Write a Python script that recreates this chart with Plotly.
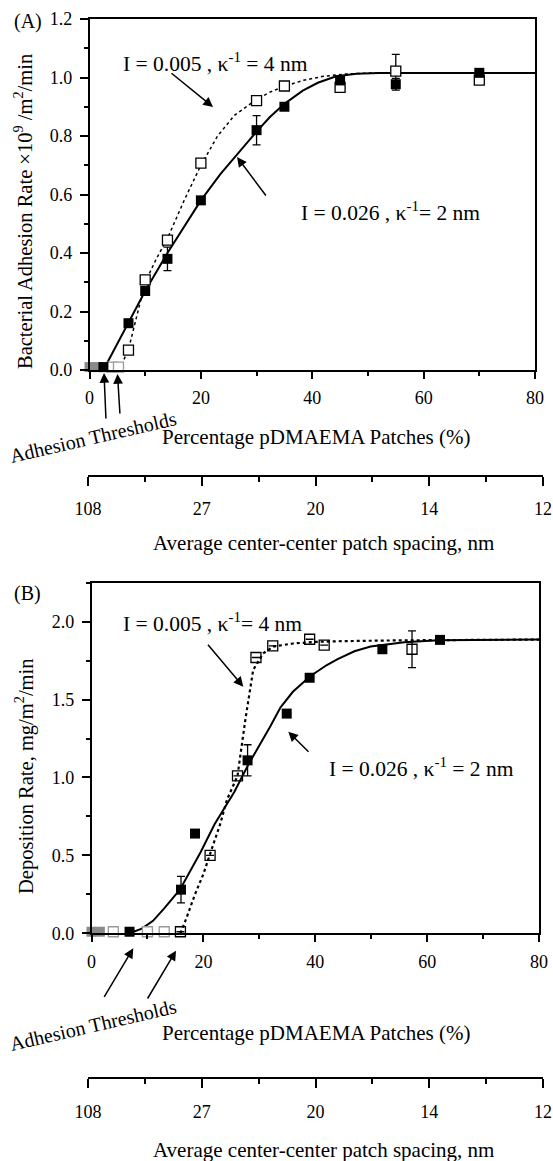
import plotly.graph_objects as go

# ---------------- data ----------------
# Panel A: bacterial adhesion rate (x10^9 /m2/min) vs % pDMAEMA patches
a_fill_x = [2.5, 7, 10, 14, 20, 30, 35, 45, 55, 70]
a_fill_y = [0.01, 0.16, 0.27, 0.38, 0.58, 0.82, 0.90, 0.99, 0.977, 1.016]
a_fill_err = [0, 0, 0, 0.04, 0, 0.05, 0, 0, 0.02, 0]
a_open_x = [7, 10, 14, 20, 30, 35, 45, 55, 70]
a_open_y = [0.068, 0.308, 0.444, 0.707, 0.921, 0.971, 0.966, 1.022, 0.991]
a_open_err = [0, 0, 0, 0, 0, 0, 0, 0.057, 0]
a_gray_fill_x = [0, 1.5]
a_gray_fill_y = [0.01, 0.01]
a_gray_open_x = [4.0, 5.2]
a_gray_open_y = [0.01, 0.01]
# fitted curves
a_solid_x = [2.5, 7, 10, 14, 17, 20, 23.5, 26.4, 30, 32.4, 35, 38.3, 41, 44.3, 48, 52, 80]
a_solid_y = [0.0, 0.16, 0.27, 0.40, 0.49, 0.58, 0.67, 0.735, 0.815, 0.865, 0.91, 0.955, 0.982, 1.004, 1.013, 1.015, 1.015]
a_dot_x = [5.2, 5.8, 7, 8.5, 10, 12, 14, 17, 20, 23, 26, 30, 32.4, 35, 38.3, 42, 46, 50, 80]
a_dot_y = [0.0, 0.02, 0.07, 0.18, 0.30, 0.38, 0.45, 0.58, 0.70, 0.80, 0.87, 0.925, 0.95, 0.97, 0.99, 1.004, 1.012, 1.015, 1.015]

# Panel B: deposition rate (mg/m2/min) vs % pDMAEMA patches
b_fill_x = [6.8, 16, 18.5, 27.9, 34.9, 39, 52, 62.3]
b_fill_y = [0.01, 0.28, 0.64, 1.11, 1.41, 1.64, 1.823, 1.883]
b_fill_err = [0, 0.085, 0, 0.10, 0, 0, 0, 0]
b_open_x = [15.9, 21.2, 26.1, 29.4, 32.4, 39.0, 41.6, 57.3]
b_open_y = [0.01, 0.50, 1.01, 1.77, 1.844, 1.887, 1.85, 1.823]
b_open_err = [0, 0, 0, 0, 0, 0, 0, 0.118]
b_gray_fill_x = [0, 1.5]
b_gray_fill_y = [0.01, 0.01]
b_gray_open_x = [3.9, 10, 13]
b_gray_open_y = [0.01, 0.01, 0.01]
b_solid_x = [6.8, 9, 11, 13, 15.8, 18, 19.5, 22, 25.5, 28, 30.8, 32, 33.8, 36, 39.1, 42, 44, 47, 49.9, 55.9, 62, 80]
b_solid_y = [0.0, 0.03, 0.08, 0.16, 0.28, 0.42, 0.52, 0.70, 0.905, 1.08, 1.25, 1.33, 1.45, 1.55, 1.65, 1.72, 1.76, 1.81, 1.84, 1.868, 1.88, 1.885]
b_dot_x = [15.9, 17, 18.5, 20, 21.2, 23, 24.2, 26.1, 27.5, 28.9, 30.7, 32.5, 36, 40, 45, 55, 80]
b_dot_y = [0.0, 0.1, 0.25, 0.38, 0.51, 0.70, 0.856, 1.01, 1.37, 1.69, 1.797, 1.84, 1.86, 1.87, 1.875, 1.88, 1.885]

# secondary (spacing) axis tick labels
spacing_labels = ["108", "27", "20", "14", "12"]
spacing_pos = [0, 1, 2, 3, 4]
pct_ticks = [0, 20, 40, 60, 80]
pct_minor = [10, 30, 50, 70]
pct_inner = [10, 20, 30, 40, 50, 60, 70]

# ---------------- helpers ----------------
W, H = 553, 1161
FONT = "Liberation Serif"


def pxx(x):
    return x / W


def pyy(y):
    return 1 - y / H


fig = go.Figure()


def add_panel(xa, ya, fx, fy, ferr, ox, oy, oerr, gfx, gfy, gox, goy,
              sx, sy, dx, dy, open_fill, dotw):
    fig.add_trace(go.Scatter(x=sx, y=sy, mode="lines", xaxis=xa, yaxis=ya,
                             line=dict(color="black", width=2), cliponaxis=False,
                             showlegend=False, hoverinfo="skip"))
    fig.add_trace(go.Scatter(x=dx, y=dy, mode="lines", xaxis=xa, yaxis=ya,
                             line=dict(color="black", width=dotw, dash="dot"), cliponaxis=False,
                             showlegend=False, hoverinfo="skip"))
    fig.add_trace(go.Scatter(x=gfx, y=gfy, mode="markers", xaxis=xa, yaxis=ya,
                             marker=dict(symbol="square", size=10, color="#8a8a8a"),
                             cliponaxis=False, showlegend=False))
    fig.add_trace(go.Scatter(x=gox, y=goy, mode="markers", xaxis=xa, yaxis=ya,
                             marker=dict(symbol="square", size=10, color="white",
                                         line=dict(color="#9a9a9a", width=1.3)),
                             cliponaxis=False, showlegend=False))
    fig.add_trace(go.Scatter(x=ox, y=oy, mode="markers", xaxis=xa, yaxis=ya,
                             marker=dict(symbol="square" if open_fill else "square-open",
                                         size=10, color="white" if open_fill else "black",
                                         line=dict(color="black", width=1.3)),
                             error_y=dict(type="data", array=oerr, color="black",
                                          thickness=1.3, width=4),
                             cliponaxis=False, showlegend=False))
    fig.add_trace(go.Scatter(x=fx, y=fy, mode="markers", xaxis=xa, yaxis=ya,
                             marker=dict(symbol="square", size=10, color="black"),
                             error_y=dict(type="data", array=ferr, color="black",
                                          thickness=1.3, width=4),
                             cliponaxis=False, showlegend=False))


add_panel("x", "y", a_fill_x, a_fill_y, a_fill_err, a_open_x, a_open_y, a_open_err,
          a_gray_fill_x, a_gray_fill_y, a_gray_open_x, a_gray_open_y,
          a_solid_x, a_solid_y, a_dot_x, a_dot_y, True, 1.5)
add_panel("x2", "y2", b_fill_x, b_fill_y, b_fill_err, b_open_x, b_open_y, b_open_err,
          b_gray_fill_x, b_gray_fill_y, b_gray_open_x, b_gray_open_y,
          b_solid_x, b_solid_y, b_dot_x, b_dot_y, False, 2.2)

# invisible carriers so the spacing axes get drawn
for xa, ya in (("x5", "y"), ("x6", "y2")):
    fig.add_trace(go.Scatter(x=[spacing_pos[0], spacing_pos[-1]], y=[None, None],
                             mode="markers", xaxis=xa, yaxis=ya,
                             marker=dict(opacity=0), showlegend=False, hoverinfo="skip"))

tickfont = dict(family=FONT, size=18, color="black")


def main_x(domain, anchor):
    return dict(domain=domain, anchor=anchor, range=[0, 80], tickvals=pct_ticks,
                ticks="outside", ticklen=7, tickwidth=1.5, tickcolor="black",
                minor=dict(tickvals=pct_minor, ticks="outside", ticklen=4,
                           tickwidth=1.5, tickcolor="black"),
                showline=True, linewidth=1.5, linecolor="black", mirror=True,
                showgrid=False, zeroline=False, tickfont=tickfont,
                ticklabelstandoff=4, fixedrange=True)


def main_y(domain, anchor, rng, major, minor):
    return dict(domain=domain, anchor=anchor, range=rng, dtick=major, tick0=0,
                tickformat=".1f", ticks="outside", ticklen=8, tickwidth=1.5,
                tickcolor="black",
                minor=dict(dtick=minor, tick0=0, ticks="outside", ticklen=4,
                           tickwidth=1.5, tickcolor="black"),
                showline=True, linewidth=1.5, linecolor="black", mirror=True,
                showgrid=False, zeroline=False, tickfont=tickfont,
                ticklabelstandoff=4, fixedrange=True)


def inner_x(over, anchor):
    return dict(overlaying=over, anchor=anchor, side="top", range=[0, 80],
                tickvals=pct_inner, ticks="inside", ticklen=7, tickwidth=1.5,
                tickcolor="black", showticklabels=False, showline=False,
                showgrid=False, zeroline=False, fixedrange=True)


def inner_y(over, anchor, rng, step):
    return dict(overlaying=over, anchor=anchor, side="right", range=rng,
                dtick=step, tick0=0, ticks="inside", ticklen=8, tickwidth=1.5,
                tickcolor="black", showticklabels=False, showline=False,
                showgrid=False, zeroline=False, fixedrange=True)


def spacing_axis(ypix):
    return dict(anchor="free", position=pyy(ypix), domain=[pxx(88), pxx(543)],
                range=[spacing_pos[0], spacing_pos[-1]], tickvals=spacing_pos,
                ticktext=spacing_labels,
                ticks="outside", ticklen=9, tickwidth=1.5, tickcolor="black",
                minor=dict(tickvals=[0.5, 1.5, 2.5, 3.5], ticks="outside", ticklen=5,
                           tickwidth=1.5, tickcolor="black"),
                showline=True, linewidth=1.5, linecolor="black",
                showgrid=False, zeroline=False, tickfont=tickfont,
                ticklabelstandoff=8, fixedrange=True)


fig.update_layout(
    width=W, height=H, margin=dict(l=0, r=0, t=0, b=0),
    template="none", paper_bgcolor="white", plot_bgcolor="rgba(0,0,0,0)",
    showlegend=False,
    xaxis=main_x([pxx(89.5), pxx(535)], "y"),
    yaxis=main_y([pyy(370), pyy(19)], "x", [0, 1.2], 0.2, 0.1),
    xaxis2=main_x([pxx(91.5), pxx(539)], "y2"),
    yaxis2=main_y([pyy(933.3), pyy(582.7)], "x2", [0, 2.25], 0.5, 0.25),
    xaxis3=inner_x("x", "y"),
    yaxis3=inner_y("y", "x", [0, 1.2], 0.1),
    xaxis4=inner_x("x2", "y2"),
    yaxis4=inner_y("y2", "x2", [0, 2.25], 0.25),
    xaxis5=spacing_axis(476),
    xaxis6=spacing_axis(1078.3),
)


def txt(x, y, s, size=20, angle=0):
    fig.add_annotation(x=pxx(x), y=pyy(y), xref="paper", yref="paper", text=s,
                       showarrow=False, textangle=angle, xanchor="center", yanchor="middle",
                       font=dict(family=FONT, size=size, color="black"))


def arrow(hx, hy, tx, ty):
    # head at pixel (hx, hy), tail at pixel (tx, ty)
    fig.add_annotation(x=pxx(hx), y=pyy(hy), xref="paper", yref="paper",
                       ax=tx - hx, ay=ty - hy, text="",
                       showarrow=True, arrowhead=2, arrowsize=1.3, arrowwidth=1.5,
                       arrowcolor="black", standoff=0)


# Panel A texts
txt(27.5, 22, "(A)", 20)
txt(215, 63, "I = 0.005 , κ<sup>-1</sup> = 4 nm", 21.5)
txt(390, 212, "I = 0.026 , κ<sup>-1</sup>= 2 nm", 21.5)
txt(93, 437, "Adhesion Thresholds", 20, -13)
txt(23, 212, "Bacterial Adhesion Rate ×10<sup>9</sup> /m<sup>2</sup>/min", 20.5, -90)
txt(316, 437, "Percentage pDMAEMA Patches (%)", 21)
txt(323, 543, "Average center-center patch spacing, nm", 21)
arrow(213, 107, 170, 72)
arrow(237, 157, 267, 197)
arrow(104, 373, 106, 420)
arrow(117.5, 374, 120, 415)

# Panel B texts
txt(27.5, 593, "(B)", 20)
txt(212, 622, "I = 0.005 , κ<sup>-1</sup>= 4 nm", 21.5)
txt(421.5, 767, "I = 0.026 , κ<sup>-1</sup> = 2 nm", 21.5)
txt(93.3, 1025, "Adhesion Thresholds", 20, -13)
txt(24, 776, "Deposition Rate, mg/m<sup>2</sup>/min", 20.5, -90)
txt(316, 1033, "Percentage pDMAEMA Patches (%)", 21)
txt(323, 1150, "Average center-center patch spacing, nm", 21)
arrow(243.3, 686.7, 206.7, 643.3)
arrow(288.3, 731.7, 310, 753.3)
arrow(133.3, 948.3, 103.3, 998.3)
arrow(176, 950.7, 146.7, 1000)

fig.write_html("out.html")
